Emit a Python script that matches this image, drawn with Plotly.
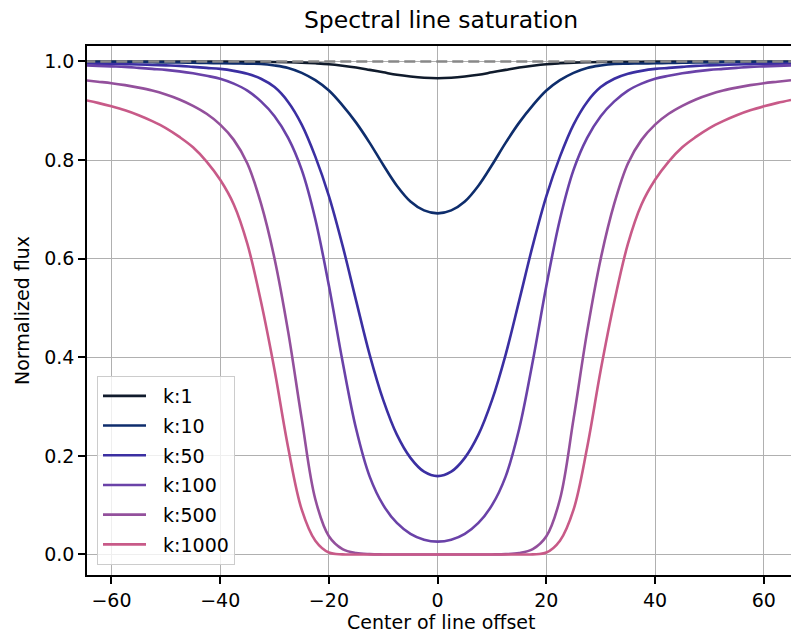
import plotly.graph_objects as go

# Center-of-line offset grid
offset = [-65, -62.5, -60, -57.5, -55, -52.5, -50, -47.5, -45, -42.5, -40, -37.5, -35,
          -32.5, -30, -27.5, -25, -22.5, -20, -17.5, -15, -12.5, -10, -7.5, -5, -2.5, 0,
          2.5, 5, 7.5, 10, 12.5, 15, 17.5, 20, 22.5, 25, 27.5, 30, 32.5,
          35, 37.5, 40, 42.5, 45, 47.5, 50, 52.5, 55, 57.5, 60, 62.5, 65]

flux_k1 = [1.0, 1.0, 1.0, 1.0, 1.0, 1.0, 0.9999, 0.9999, 0.9998, 0.9998, 0.9997, 0.9996,
           0.9995, 0.9993, 0.999, 0.9985, 0.9977, 0.9963, 0.9945, 0.9915, 0.9878, 0.983,
           0.978, 0.973, 0.9695, 0.967, 0.966,
           0.967, 0.9695, 0.973, 0.978, 0.983, 0.9878, 0.9915, 0.9945, 0.9963, 0.9977,
           0.9985, 0.999, 0.9993, 0.9995, 0.9996, 0.9997, 0.9998, 0.9998, 0.9999, 0.9999,
           1.0, 1.0, 1.0, 1.0, 1.0, 1.0]

flux_k10 = [0.999, 0.999, 0.999, 0.999, 0.9988, 0.9985, 0.998, 0.998, 0.9975, 0.997,
            0.9965, 0.996, 0.9955, 0.995, 0.992, 0.987, 0.977, 0.962, 0.941, 0.911, 0.876,
            0.835, 0.790, 0.748, 0.716, 0.698, 0.692,
            0.698, 0.716, 0.748, 0.790, 0.835, 0.876, 0.911, 0.941, 0.962, 0.977, 0.987,
            0.992, 0.995, 0.9955, 0.996, 0.9965, 0.997, 0.9975, 0.998, 0.998, 0.9985,
            0.9988, 0.999, 0.999, 0.999, 0.999]

flux_k50 = [0.996, 0.9955, 0.995, 0.9945, 0.994, 0.993, 0.992, 0.991, 0.989, 0.987, 0.985,
            0.981, 0.975, 0.965, 0.948, 0.918, 0.872, 0.807, 0.727, 0.627, 0.515, 0.405,
            0.313, 0.243, 0.196, 0.168, 0.159,
            0.168, 0.196, 0.243, 0.313, 0.405, 0.515, 0.627, 0.727, 0.807, 0.872, 0.918,
            0.948, 0.965, 0.975, 0.981, 0.985, 0.987, 0.989, 0.991, 0.992, 0.993, 0.994,
            0.9945, 0.995, 0.9955, 0.996]

flux_k100 = [0.992, 0.991, 0.990, 0.989, 0.987, 0.985, 0.983, 0.980, 0.976, 0.971, 0.965,
             0.955, 0.941, 0.919, 0.889, 0.845, 0.780, 0.680, 0.545, 0.392, 0.255, 0.158,
             0.100, 0.064, 0.042, 0.030, 0.026,
             0.030, 0.042, 0.064, 0.100, 0.158, 0.255, 0.392, 0.545, 0.680, 0.780, 0.845,
             0.889, 0.919, 0.941, 0.955, 0.965, 0.971, 0.976, 0.980, 0.983, 0.985, 0.987,
             0.989, 0.990, 0.991, 0.992]

flux_k500 = [0.962, 0.959, 0.956, 0.952, 0.947, 0.941, 0.933, 0.923, 0.910, 0.894, 0.872,
             0.841, 0.793, 0.712, 0.600, 0.452, 0.275, 0.112, 0.037, 0.011, 0.003, 0.0007,
             0.0001, 0.0, 0.0, 0.0, 0.0,
             0.0, 0.0, 0.0, 0.0001, 0.0007, 0.003, 0.011, 0.037, 0.112, 0.275, 0.452,
             0.600, 0.712, 0.793, 0.841, 0.872, 0.894, 0.910, 0.923, 0.933, 0.941, 0.947,
             0.952, 0.956, 0.959, 0.962]

flux_k1000 = [0.922, 0.916, 0.909, 0.901, 0.891, 0.879, 0.865, 0.847, 0.826, 0.797, 0.760,
              0.710, 0.630, 0.513, 0.374, 0.217, 0.091, 0.028, 0.004, 0.0003, 0.0, 0.0,
              0.0, 0.0, 0.0, 0.0, 0.0,
              0.0, 0.0, 0.0, 0.0, 0.0, 0.0, 0.0003, 0.004, 0.028, 0.091, 0.217,
              0.374, 0.513, 0.630, 0.710, 0.760, 0.797, 0.826, 0.847, 0.865, 0.879, 0.891,
              0.901, 0.909, 0.916, 0.922]

series_names = ["k:1", "k:10", "k:50", "k:100", "k:500", "k:1000"]
series_values = [flux_k1, flux_k10, flux_k50, flux_k100, flux_k500, flux_k1000]
series_colors = ["#101b2c", "#0e2d6c", "#3b2fa2", "#6a42a8", "#93509c", "#c85a88"]

continuum_x = [-65, 65]
continuum_y = [1.0, 1.0]

x_ticks = [-60, -40, -20, 0, 20, 40, 60]
y_ticks = [0.0, 0.2, 0.4, 0.6, 0.8, 1.0]
y_ticklabels = ["0.0", "0.2", "0.4", "0.6", "0.8", "1.0"]

FONT = "DejaVu Sans"

fig = go.Figure()
for name, vals, col in zip(series_names, series_values, series_colors):
    fig.add_trace(go.Scatter(
        x=offset, y=vals, mode="lines", name="\u00a0\u00a0" + name, legendgroup=name,
        line=dict(color=col, width=2.6, shape="spline", smoothing=1.0),
    ))

fig.add_trace(go.Scatter(
    x=continuum_x, y=continuum_y, mode="lines", showlegend=False,
    line=dict(color="#888888", width=2.4, dash="11px,5px"),
))

W, H = 791, 634
L, R, T, B = 87, 0, 46, 59
pw, ph = W - L - R, H - T - B

fig.update_layout(
    width=W, height=H,
    margin=dict(l=L, r=R, t=T, b=B, pad=0),
    paper_bgcolor="white", plot_bgcolor="white",
    font=dict(family=FONT, size=19, color="black"),
    title=dict(text="Spectral line saturation", font=dict(size=23.5, color="black"),
               x=441 / W, xanchor="center", xref="container",
               y=1 - 20 / H, yanchor="middle", yref="container"),
    showlegend=True,
    legend=dict(x=(97 - L) / pw, y=(575 - 565) / ph, xanchor="left", yanchor="bottom",
                bgcolor="rgba(255,255,255,0.8)", bordercolor="#cccccc", borderwidth=1,
                font=dict(size=19), traceorder="grouped", tracegroupgap=2,
                itemwidth=43),
    annotations=[
        dict(text="Normalized flux", xref="paper", yref="paper",
             x=(22 - L) / pw, y=(575 - 311) / ph, textangle=-90,
             showarrow=False, xanchor="center", yanchor="middle", font=dict(size=19)),
        dict(text="Center of line offset", xref="paper", yref="paper",
             x=(441 - L) / pw, y=(575 - 622) / ph,
             showarrow=False, xanchor="center", yanchor="middle", font=dict(size=19)),
    ],
)

fig.update_xaxes(
    range=[-64.5, 65], tickvals=x_ticks, showgrid=True, gridcolor="#b0b0b0", gridwidth=1.3,
    zeroline=False, showline=True, linecolor="black", linewidth=1.5, mirror=True,
    ticks="outside", ticklen=7, tickwidth=1.5, tickcolor="black",
    tickfont=dict(size=19), automargin=False,
)
fig.update_yaxes(
    range=[-0.0416, 1.0314], tickvals=y_ticks, ticktext=y_ticklabels,
    showgrid=True, gridcolor="#b0b0b0", gridwidth=1.3,
    zeroline=False, showline=True, linecolor="black", linewidth=1.5, mirror=False,
    ticks="outside", ticklen=7, tickwidth=1.5, tickcolor="black",
    tickfont=dict(size=19), automargin=False,
)

fig.write_html(
    "out.html",
    config={"displayModeBar": False},
    post_script="document.body.style.margin='0px';"
                "document.documentElement.style.overflow='hidden';",
)
